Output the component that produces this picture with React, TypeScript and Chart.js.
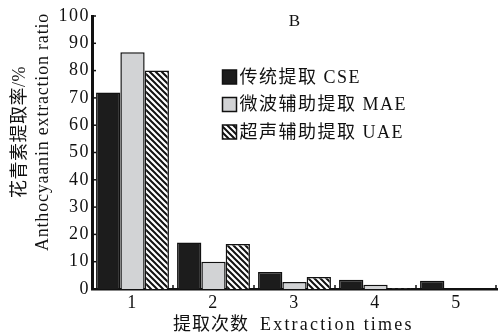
import React, { useEffect, useRef } from "react";
import { Chart, registerables } from "chart.js";

Chart.register(...registerables);

const categories = ["1", "2", "3", "4", "5"];
const seriesNames = ["传统提取 CSE", "微波辅助提取 MAE", "超声辅助提取 UAE"];
const cseValues = [72, 17, 6.2, 3.4, 3.0];
const maeValues = [86.7, 10, 2.6, 1.6, 0];
const uaeValues = [80, 16.5, 4.4, 0.2, 0];
const yTicks = [0, 10, 20, 30, 40, 50, 60, 70, 80, 90, 100];
const panelLabel = "B";
const yTitleLines = ["花青素提取率/%", "Anthocyaanin extraction ratio"];
const xTitleCn = "提取次数";
const xTitleEn = "Extraction times";

const FONT = "'Liberation Serif', 'DejaVu Serif', 'Noto Sans CJK SC', serif";

function makeHatch(): CanvasPattern | string {
  const c = document.createElement("canvas");
  const s = 6;
  c.width = s;
  c.height = s;
  const g = c.getContext("2d");
  if (!g) return "#888";
  g.fillStyle = "#ffffff";
  g.fillRect(0, 0, s, s);
  g.strokeStyle = "#111";
  g.lineWidth = 2;
  g.beginPath();
  g.moveTo(-s, 0);
  g.lineTo(s, 2 * s);
  g.moveTo(0, 0);
  g.lineTo(s, s);
  g.moveTo(0, -s);
  g.lineTo(2 * s, s);
  g.stroke();
  const p = g.createPattern(c, "repeat");
  return p || "#888";
}

export default function App() {
  const ref = useRef<HTMLCanvasElement>(null);

  useEffect(() => {
    if (!ref.current) return;
    const hatch = makeHatch();
    const fills: any[] = ["#1c1c1c", "#d2d3d5", hatch];

    const spacing = {
      id: "spacing",
      beforeDraw(chart: any) {
        (chart.ctx as any).letterSpacing = "1.5px";
      },
    };

    const decor = {
      id: "decor",
      afterDatasetsDraw(chart: any) {
        const ctx = chart.ctx as any;
        const a = chart.chartArea;
        const ys = chart.scales.y;
        ctx.save();
        ctx.strokeStyle = "#111";
        ctx.lineWidth = 1.5;
        yTicks.forEach((v) => {
          const y = ys.getPixelForValue(v);
          ctx.beginPath();
          ctx.moveTo(a.left, y);
          ctx.lineTo(a.left + 4, y);
          ctx.stroke();
        });
        const w = (a.right - a.left) / categories.length;
        for (let i = 1; i <= categories.length; i++) {
          const x = a.left + i * w - (i === categories.length ? 1 : 0);
          ctx.beginPath();
          ctx.moveTo(x, a.bottom);
          ctx.lineTo(x, a.bottom - 4);
          ctx.stroke();
        }
        ctx.fillStyle = "#111";
        ctx.textBaseline = "middle";
        // panel label
        ctx.letterSpacing = "0px";
        ctx.font = `17px ${FONT}`;
        ctx.textAlign = "center";
        ctx.fillText(panelLabel, (a.left + a.right) / 2, 22);
        // legend
        ctx.textAlign = "left";
        ctx.font = `18px ${FONT}`;
        ctx.letterSpacing = "1.5px";
        const lx = 222.5;
        const rows = [77, 104.5, 132];
        seriesNames.forEach((name, i) => {
          const cy = rows[i];
          ctx.fillStyle = fills[i];
          ctx.fillRect(lx, cy - 7, 14, 14);
          ctx.lineWidth = 1.5;
          ctx.strokeStyle = "#111";
          ctx.strokeRect(lx, cy - 7, 14, 14);
          ctx.fillStyle = "#111";
          ctx.fillText(name, lx + 17, cy + 1);
        });
        // x title
        ctx.font = `18px ${FONT}`;
        ctx.letterSpacing = "1px";
        ctx.fillText(xTitleCn, 173, 325);
        ctx.letterSpacing = "2.2px";
        ctx.fillText(xTitleEn, 260, 325);
        // y title
        ctx.save();
        ctx.translate(20, 132);
        ctx.rotate(-Math.PI / 2);
        ctx.textAlign = "center";
        ctx.font = `18px ${FONT}`;
        ctx.letterSpacing = "0.5px";
        ctx.fillText(yTitleLines[0], 0, 0);
        ctx.letterSpacing = "0.8px";
        ctx.fillText(yTitleLines[1], 0, 23);
        ctx.restore();
        ctx.restore();
      },
    };

    const chart = new Chart(ref.current, {
      type: "bar",
      data: {
        labels: categories,
        datasets: [cseValues, maeValues, uaeValues].map((d, i) => ({
          label: seriesNames[i],
          data: d,
          backgroundColor: fills[i],
          borderColor: "#111",
          borderWidth: 1.5,
          borderSkipped: "bottom",
          categoryPercentage: 0.9,
          barPercentage: 1.0,
        })),
      },
      options: {
        responsive: false,
        animation: false,
        events: [],
        layout: { padding: { top: 16, right: 2, left: 0, bottom: 0 } },
        plugins: {
          legend: { display: false },
          tooltip: { enabled: false },
          title: { display: false },
        },
        scales: {
          x: {
            type: "category",
            grid: { display: false, drawTicks: false },
            border: { display: true, color: "#111", width: 2.5 },
            ticks: {
              color: "#111",
              font: { family: FONT, size: 18 },
              padding: 3,
            },
            afterFit(scale: any) {
              scale.height = 46;
            },
          },
          y: {
            min: 0,
            max: 100,
            grid: { display: false, drawTicks: false },
            border: { display: true, color: "#111", width: 3 },
            ticks: {
              stepSize: 10,
              color: "#111",
              font: { family: FONT, size: 18 },
              padding: 2,
            },
            afterFit(scale: any) {
              scale.width = 92;
            },
          },
        },
      },
      plugins: [spacing, decor],
    } as any);

    return () => chart.destroy();
  }, []);

  return (
    <div style={{ position: "fixed", left: 0, top: 0, width: 499, height: 335, background: "#fff" }}>
      <canvas ref={ref} width={499} height={335} />
    </div>
  );
}
